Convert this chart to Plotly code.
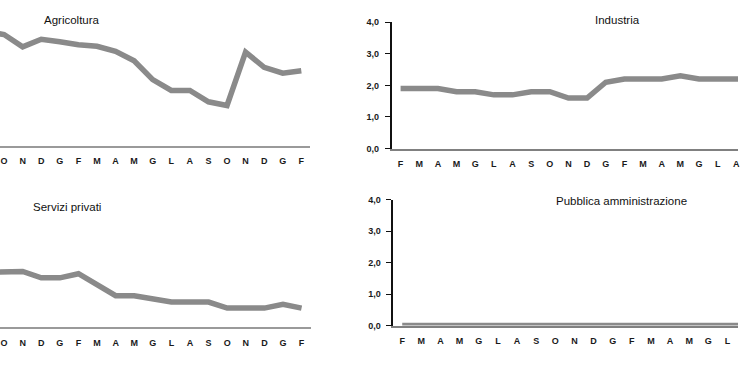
import plotly.graph_objects as go

months = ["F", "M", "A", "M", "G", "L", "A", "S", "O", "N", "D", "G",
          "F", "M", "A", "M", "G", "L", "A", "S", "O", "N", "D", "G", "F"]

N = None
agricoltura = [N, N, N, N, N, N, N, 3.7, 3.6, 3.2, 3.45, 3.37, 3.27, 3.22,
               3.06, 2.75, 2.14, 1.79, 1.79, 1.42, 1.3, 3.03, 2.54, 2.35, 2.43]
industria = [1.9, 1.9, 1.9, 1.8, 1.8, 1.7, 1.7, 1.8, 1.8, 1.6, 1.6, 2.1,
             2.2, 2.2, 2.2, 2.3, 2.2, 2.2, 2.2, 2.2, N, N, N, N, N]
servizi_privati = [N, N, N, N, N, N, N, 1.73, 1.74, 1.75, 1.55, 1.55, 1.68,
                   1.35, 0.99, 0.99, 0.89, 0.79, 0.79, 0.79, 0.6, 0.6, 0.6,
                   0.72, 0.6]
pubblica_amm = [0.0] * 20 + [N] * 5

titles = ["Agricoltura", "Industria", "Servizi privati", "Pubblica amministrazione"]
y_ticks = [0, 1, 2, 3, 4]

W, H = 740, 389
LINE = "#8a8a8a"

def px_x(v):
    return v / W

def px_y(v):
    return 1 - v / H

idx = list(range(len(months)))

panels = [
    # series, x-domain px, y-domain px (bottom, top), x range, show y axis
    (agricoltura, (0, 310.7), (144.3, 17.7), (7.78, 24.46), False),
    (industria, (392.7, 740), (147.3, 17.7), (-0.48, 18.09), True),
    (servizi_privati, (0, 311.7), (330.7, 200), (7.78, 24.5), False),
    (pubblica_amm, (394.3, 740), (329, 200), (-0.47, 17.55), True),
]

fig = go.Figure()

for i, (series, xd, yd, xr, showy) in enumerate(panels):
    n = "" if i == 0 else str(i + 1)
    fig.add_trace(go.Scatter(
        x=idx, y=series, mode="lines",
        line=dict(color=LINE, width=5.5),
        xaxis="x" + n, yaxis="y" + n,
        showlegend=False, hoverinfo="skip",
    ))
    xa = dict(
        domain=[px_x(xd[0]), px_x(xd[1])], range=list(xr),
        anchor="y" + n, tickmode="array", tickvals=idx, ticktext=months,
        showgrid=False, zeroline=False, showline=True,
        linecolor="#9a9a9a" if not showy else "#808080", linewidth=2,
        ticks="", ticklabelstandoff=6, ticklabeloverflow="allow",
        tickfont=dict(family="Liberation Sans, Arial", size=9,
                      color="#1a1a1a", weight="bold"),
    )
    ya = dict(
        domain=[px_y(yd[0]), px_y(yd[1])], range=[0, 4],
        anchor="x" + n, showgrid=False, zeroline=False,
    )
    if showy:
        ya.update(showline=True, linecolor="#111111", linewidth=1.5,
                  ticks="outside", ticklen=5, tickcolor="#111111", tickwidth=1,
                  tickvals=y_ticks, tickformat=".1f", ticklabelstandoff=4,
                  ticklabeloverflow="allow",
                  tickfont=dict(family="Liberation Sans, Arial", size=9,
                                color="#1a1a1a", weight="bold"))
    else:
        ya.update(visible=False)
    fig.layout["xaxis" + n] = xa
    fig.layout["yaxis" + n] = ya

title_pos = [(72.5, 15), (619.5, 15), (67.5, 207), (623, 201)]
for t, (tx, ty) in zip(titles, title_pos):
    fig.add_annotation(
        text=t, x=px_x(tx), y=px_y(ty), xref="paper", yref="paper",
        showarrow=False, xanchor="center", yanchor="middle",
        font=dict(family="Liberation Sans, Arial", size=11.5, color="#111111"),
    )

fig.update_layout(
    width=W, height=H, margin=dict(l=0, r=0, t=0, b=0),
    paper_bgcolor="white", plot_bgcolor="white", separators=",.",
)

fig.write_html(
    "out.html",
    config={"displayModeBar": False},
    post_script="document.body.style.margin='0';document.body.style.overflow='hidden';",
)
